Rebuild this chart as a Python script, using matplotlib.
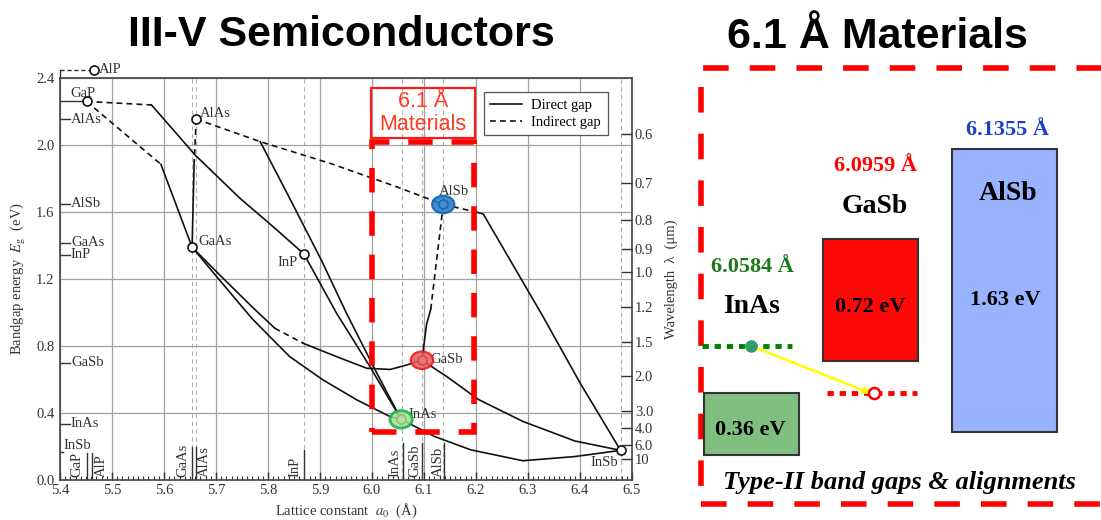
import numpy as np
import matplotlib.pyplot as plt
from matplotlib.lines import Line2D
from matplotlib.patches import Rectangle, Ellipse

plt.rcParams['font.family'] = ['Liberation Serif', 'DejaVu Serif']
plt.rcParams['mathtext.fontset'] = 'stix'

# binary compounds as drawn: lattice constant (A), band gap (eV)
names = ['GaP', 'AlAs', 'GaAs', 'InP', 'AlSb', 'GaSb', 'InAs', 'InSb', 'AlP']
a0 = [5.451, 5.662, 5.654, 5.869, 6.137, 6.096, 6.056, 6.478, 5.466]
eg = [2.26, 2.155, 1.39, 1.35, 1.645, 0.715, 0.362, 0.177, 2.45]

# gap markers on the left edge
edge_names = ['AlAs', 'AlSb', 'GaAs', 'InP', 'GaSb', 'InAs']
edge_eg = [2.155, 1.65, 1.415, 1.345, 0.70, 0.335]

# lattice markers at the bottom
bottom_names = ['GaP', 'AlP', 'GaAs', 'AlAs', 'InP', 'InAs', 'GaSb', 'AlSb']
bottom_a0 = [5.451, 5.462, 5.653, 5.661, 5.869, 6.060, 6.097, 6.138]
dashed_a0 = [5.653, 5.661, 5.869, 6.058, 6.096, 6.136, 6.478]

# ternary curves (solid = direct, dashed = indirect)
gap_inp_ind = ([5.451, 5.576], [2.26, 2.239])
gap_inp_dir = ([5.576, 5.66, 5.746, 5.81, 5.869], [2.239, 1.94, 1.682, 1.512, 1.35])
gap_gaas_ind = ([5.451, 5.594], [2.26, 1.885])
gap_gaas_dir = ([5.594, 5.654], [1.885, 1.39])
alas_gaas_ind = ([5.662, 5.658], [2.155, 1.90])
alas_gaas_dir = ([5.658, 5.654], [1.90, 1.39])
alas_alsb_ind = ([5.662, 5.785, 5.919, 6.047, 6.137], [2.155, 2.02, 1.891, 1.751, 1.645])
alas_inas_dir = ([5.785, 5.842, 5.903, 5.951, 6.009, 6.056], [2.02, 1.68, 1.31, 0.995, 0.64, 0.362])
inp_inas_dir = ([5.869, 5.932, 5.996, 6.056], [1.35, 0.995, 0.677, 0.362])
gaas_inas_dir = ([5.654, 5.704, 5.769, 5.813, 5.842, 5.906, 5.971, 6.035, 6.056],
                 [1.39, 1.204, 0.965, 0.826, 0.736, 0.597, 0.478, 0.378, 0.362])
gaas_gasb_dir1 = ([5.654, 5.704, 5.769, 5.813], [1.39, 1.234, 1.035, 0.906])
gaas_gasb_ind = ([5.813, 5.868], [0.906, 0.816])
gaas_gasb_dir2 = ([5.868, 5.929, 5.99, 6.035, 6.067, 6.096], [0.816, 0.74, 0.667, 0.66, 0.687, 0.715])
alsb_gasb_ind = ([6.137, 6.113], [1.645, 1.02])
alsb_gasb_dir = ([6.113, 6.105, 6.096], [1.02, 0.93, 0.715])
alsb_insb_ind = ([6.137, 6.20], [1.645, 1.60])
alsb_insb_dir = ([6.20, 6.214, 6.329, 6.40, 6.478], [1.60, 1.588, 0.975, 0.58, 0.177])
gasb_insb_dir = ([6.096, 6.144, 6.205, 6.29, 6.39, 6.478], [0.715, 0.617, 0.48, 0.35, 0.233, 0.177])
inas_insb_dir = ([6.056, 6.12, 6.19, 6.29, 6.39, 6.45, 6.478], [0.362, 0.26, 0.18, 0.115, 0.14, 0.165, 0.177])

direct = [gap_inp_dir, gap_gaas_dir, alas_gaas_dir, alas_inas_dir, inp_inas_dir, gaas_inas_dir,
          gaas_gasb_dir1, gaas_gasb_dir2, alsb_gasb_dir, alsb_insb_dir, gasb_insb_dir, inas_insb_dir]
indirect = [gap_inp_ind, gap_gaas_ind, alas_gaas_ind, alas_alsb_ind, gaas_gasb_ind,
            alsb_gasb_ind, alsb_insb_ind]

# wavelength axis (um)
wl = [0.6, 0.7, 0.8, 0.9, 1.0, 1.2, 1.5, 2.0, 3.0, 4.0, 6.0, 10]
wl_labels = ['0.6', '0.7', '0.8', '0.9', '1.0', '1.2', '1.5', '2.0', '3.0', '4.0', '6.0', '10']

# 6.1 A family (band edges in eV, GaSb valence band = 0)
mat6 = ['InAs', 'GaSb', 'AlSb']
lat6 = ['6.0584 Å', '6.0959 Å', '6.1355 Å']
vb6 = [-0.55, 0.0, -0.42]
cb6 = [-0.19, 0.72, 1.25]
gap6 = ['0.36 eV', '0.72 eV', '1.63 eV']
e_level = 0.09
h_level = -0.19

ink = '#333333'
W, H = 1101, 520
fig = plt.figure(figsize=(W / 100, H / 100), dpi=100)

# ---------------- left chart ----------------
ax = fig.add_axes([60 / W, 40 / H, 572 / W, 402 / H])
ax.set_xlim(5.4, 6.5)
ax.set_ylim(0, 2.4)
ax.set_xticks(np.arange(5.4, 6.51, 0.1))
ax.set_xticks(np.arange(5.4, 6.5, 0.01), minor=True)
ax.set_yticks(np.arange(0, 2.41, 0.4))
ax.set_yticklabels(['0.0', '0.4', '0.8', '1.2', '1.6', '2.0', '2.4'])
ax.grid(True, which='major', color='#a0a0a0', lw=0.9)
ax.tick_params(axis='x', which='major', direction='in', length=6, width=1, labelsize=10.5,
               colors=ink, pad=3)
ax.tick_params(axis='x', which='minor', direction='in', length=3, width=0.8, color=ink)
ax.tick_params(axis='y', direction='in', length=0, labelsize=10.5, colors=ink, pad=4)
for s in ax.spines.values():
    s.set_color('#444444')
    s.set_linewidth(1.2)

for xv in dashed_a0:
    ax.axvline(xv, color='#b0b0b0', lw=0.8, ls=(0, (4, 3)), zorder=1)

for xs, ys in direct:
    ax.plot(xs, ys, color='#111111', lw=1.2, zorder=3)
for xs, ys in indirect:
    ax.plot(xs, ys, color='#111111', lw=1.2, ls=(0, (3.5, 2.5)), zorder=3)

# AlP sits above the frame
ax.plot([5.4, 5.4], [2.4, eg[8]], color=ink, lw=1, clip_on=False)
ax.plot([5.4, a0[8]], [eg[8], eg[8]], color=ink, lw=1, ls=(0, (3, 2)), clip_on=False)
ax.plot([5.4, a0[0]], [eg[0], eg[0]], color=ink, lw=1)

ax.plot(a0, eg, 'o', ms=6.5, mfc='white', mec='#111111', mew=1.2, zorder=5, clip_on=False)

lbl = dict(fontsize=10.5, color=ink)
ax.text(a0[8] + 0.008, eg[8], 'AlP', va='center', ha='left', **lbl)
ax.text(5.444, 2.31, 'GaP', va='center', ha='center', **lbl)
ax.text(5.669, 2.19, 'AlAs', va='center', ha='left', **lbl)
ax.text(5.666, 1.425, 'GaAs', va='center', ha='left', **lbl)
ax.text(5.858, 1.30, 'InP', va='center', ha='right', **lbl)
ax.text(6.158, 1.72, 'AlSb', va='center', ha='center', **lbl)
ax.text(6.112, 0.718, 'GaSb', va='center', ha='left', **lbl)
ax.text(6.071, 0.39, 'InAs', va='center', ha='left', **lbl)
ax.text(6.473, 0.105, 'InSb', va='center', ha='right', **lbl)

for n, e in zip(edge_names, edge_eg):
    ax.plot([5.4, 5.419], [e, e], color=ink, lw=1)
    ax.text(5.421, e, n, va='center', ha='left', **lbl)
ax.plot([5.4, 5.406], [0.17, 0.17], color=ink, lw=1)
ax.text(5.406, 0.17, 'InSb', va='bottom', ha='left', **lbl)

bottom_dx = [-0.019, 0.018, -0.016, 0.016, -0.017, -0.016, -0.014, -0.011]
bottom_top = [0.16, 0.16, 0.2, 0.2, 0.18, 0.22, 0.22, 0.22]
for n, xv, dx, top in zip(bottom_names, bottom_a0, bottom_dx, bottom_top):
    ax.plot([xv, xv], [0, top], color=ink, lw=1)
    ax.text(xv + dx, 0.02, n, rotation=90, va='bottom', ha='center', **lbl)

ax.set_xlabel('Lattice constant  $a_0$  (Å)', fontsize=10.5, color=ink, labelpad=3)
ax.set_ylabel('Bandgap energy  $E_\\mathrm{g}$  (eV)', fontsize=10.5, color=ink, labelpad=6)

ax2 = ax.twinx()
ax2.set_ylim(0, 2.4)
ax2.set_yticks([1.24 / w for w in wl])
ax2.set_yticklabels(wl_labels)
ax2.tick_params(direction='in', length=8, width=1, labelsize=10.5, colors=ink, pad=2)
ax2.set_ylabel('Wavelength  λ  (μm)', fontsize=10.5, color=ink, labelpad=8)
for s in ax2.spines.values():
    s.set_visible(False)

leg = ax.legend(handles=[Line2D([], [], color='#111111', lw=1.2),
                         Line2D([], [], color='#111111', lw=1.2, ls=(0, (3.5, 2.5)))],
                labels=['Direct gap', 'Indirect gap'], loc='upper right',
                bbox_to_anchor=(0.97, 0.983), fontsize=10.5, fancybox=False,
                framealpha=1, edgecolor='#555555', handlelength=2.2,
                borderpad=0.45, labelspacing=0.25, handletextpad=0.6)
leg.get_frame().set_linewidth(0.9)
leg.set_zorder(6)

# highlighted materials
ax.add_patch(Ellipse((a0[4], eg[4]), 0.043, 0.105, fc='#1f78c8', ec='#1060b0',
                     alpha=0.85, lw=1.5, zorder=6))
ax.add_patch(Ellipse((a0[5], eg[5]), 0.043, 0.105, fc='#e85a5a', ec='#ee1111',
                     alpha=0.85, lw=1.5, zorder=6))
ax.add_patch(Ellipse((a0[6], eg[6]), 0.043, 0.105, fc='#a8dc90', ec='#10b040',
                     alpha=0.85, lw=2, zorder=6))

# 6.1 A box
ax.add_patch(Rectangle((6.0, 0.288), 0.197, 1.732, fill=False, ec='#ff0000', lw=4,
                       ls=(0, (4.4, 3.4)), zorder=7, clip_on=False))
ax.add_patch(Rectangle((5.999, 2.044), 0.199, 0.294, fill=False, ec='#ff1a1a', lw=1.6,
                       zorder=7))
ax.text(6.0985, 2.191, '6.1 Å\nMaterials', ha='center', va='center', fontsize=15.5,
        color='#ff3a1e', family='Liberation Sans', linespacing=1.1, zorder=8)

# ---------------- right panel ----------------
ax3 = fig.add_axes([690 / W, 0, 411 / W, 460 / H])
ax3.set_xlim(690, 1101)
ax3.set_ylim((361 - 520) / 170, (361 - 60) / 170)
ax3.axis('off')

bar_x = [751.5, 870.5, 1004.5]
bar_w = [95, 95, 105]
bar_c = ['#7fbf7f', '#ff0808', '#99b3ff']
ax3.bar(bar_x, np.subtract(cb6, vb6), width=bar_w, bottom=vb6, color=bar_c,
        edgecolor='#333333', lw=1.5, zorder=2)

ax3.add_patch(Rectangle((701, -0.841), 460, 2.565, fill=False, ec='#ff0000', lw=4,
                        ls=(0, (4.6, 3.8)), clip_on=False, zorder=1))

ax3.hlines(e_level, 702, 792, colors='#008000', lw=3.5, linestyles=(0, (1.3, 1.2)), zorder=3)
ax3.hlines(h_level, 827, 917, colors='#ff0000', lw=3.5, linestyles=(0, (1.3, 1.2)), zorder=3)
ax3.annotate('', xy=(871, h_level), xytext=(bar_x[0] - 1, e_level),
             arrowprops=dict(arrowstyle='-|>', color='#ffff00', lw=1.8,
                             mutation_scale=10, shrinkA=0, shrinkB=0), zorder=4)
ax3.plot(bar_x[0] - 1, e_level, 'o', ms=8, color='#2e9c6c', zorder=5)
ax3.plot(bar_x[1] + 3.5, h_level, 'o', ms=8, mfc='white', mec='#ff0000', mew=1.8, zorder=5)

lat_c = ['#1a7a1a', '#ff0000', '#1a3fcc']
lat_pos = [(752, 0.553), (875, 1.147), (1008, 1.359)]
name_pos = [(752, 0.318), (875, 0.906), (1008, 0.988)]
gap_pos = [(750, -0.406), (870, 0.318), (1005, 0.359)]
bold = dict(family='Liberation Serif', weight='bold', ha='center', va='center')
for i in range(3):
    ax3.text(*lat_pos[i], lat6[i], fontsize=16, color=lat_c[i], **bold)
    ax3.text(*name_pos[i], mat6[i], fontsize=20, color='black', **bold)
    ax3.text(*gap_pos[i], gap6[i], fontsize=16, color='black', **bold)
ax3.text(899, -0.712, 'Type-II band gaps & alignments', fontsize=19, style='italic',
         color='black', **bold)

# titles
fig.text(341 / W, 1 - 46 / H, 'III-V Semiconductors', fontsize=31, weight='bold',
         family='Liberation Sans', ha='center', va='baseline')
fig.text(877 / W, 1 - 48 / H, '6.1 Å Materials', fontsize=31, weight='bold',
         family='Liberation Sans', ha='center', va='baseline')

fig.savefig('out.png', dpi=100)
